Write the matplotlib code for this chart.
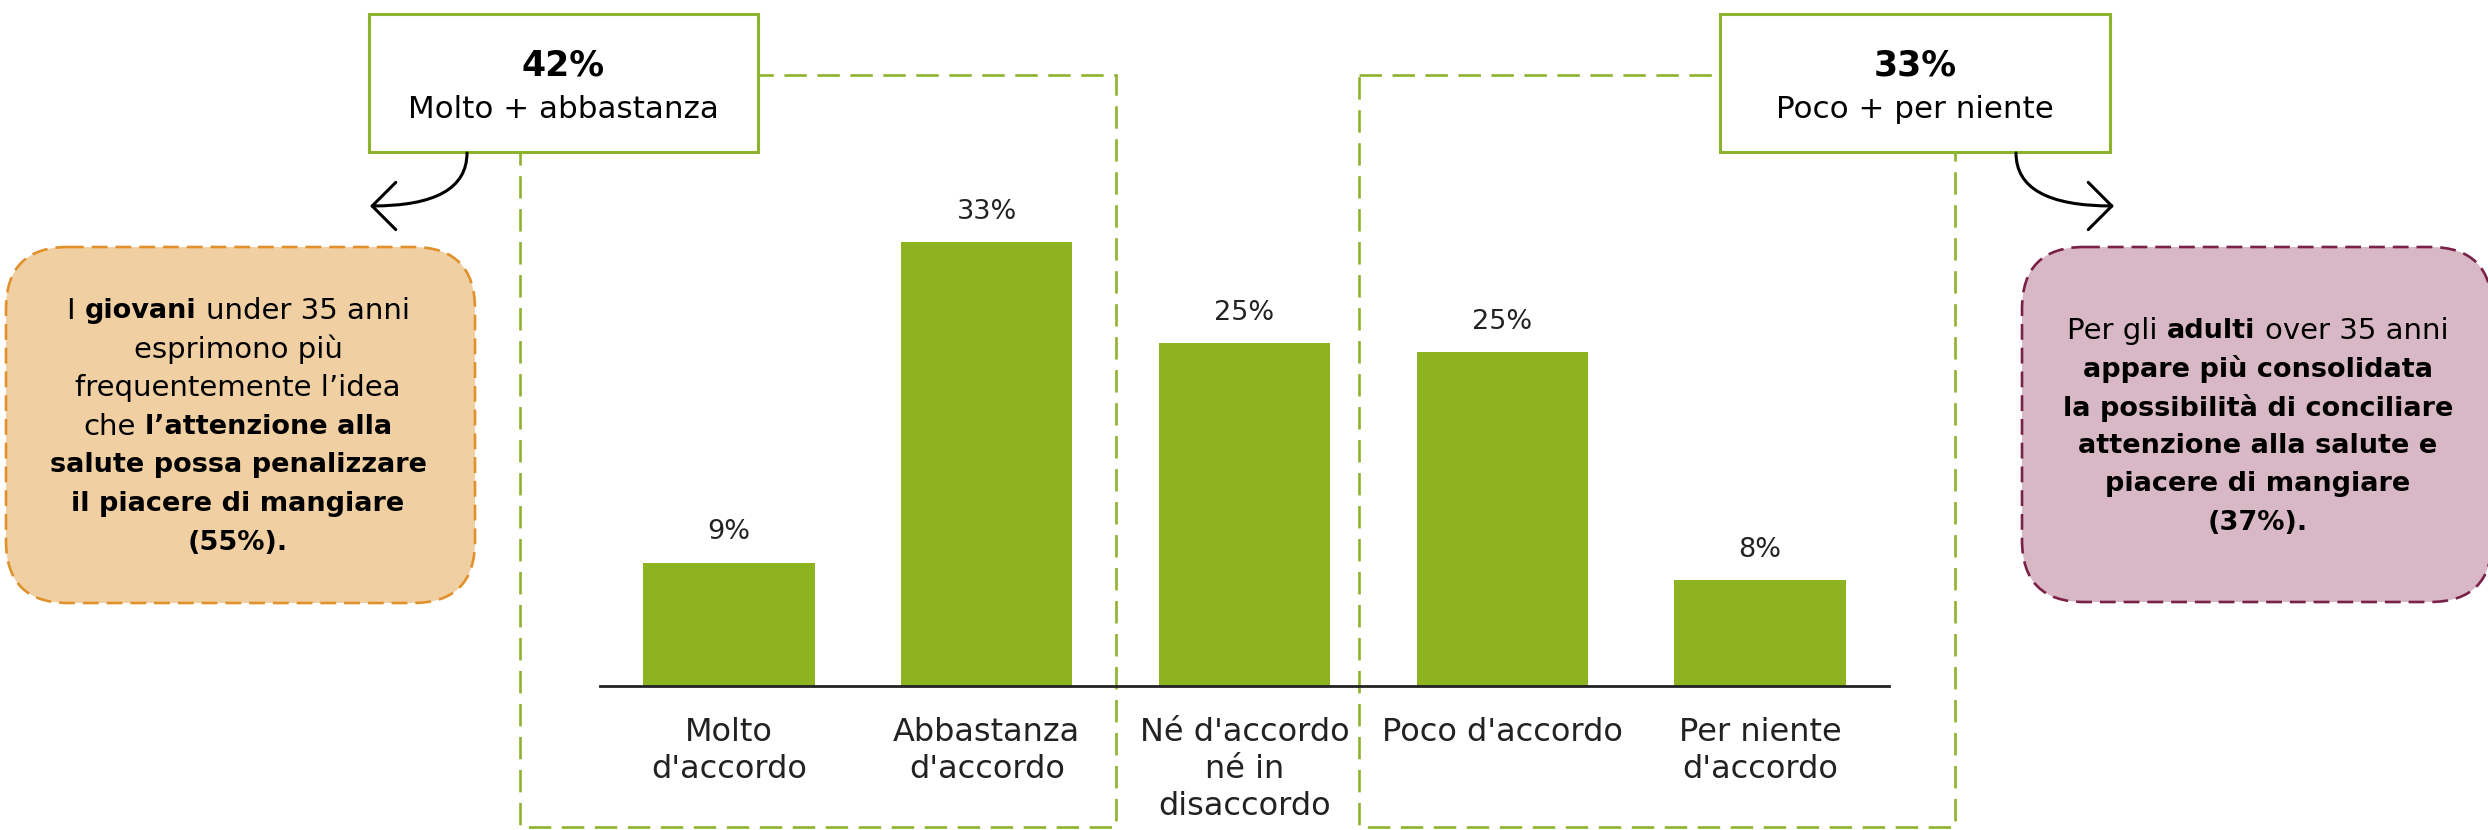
import matplotlib
matplotlib.use("Agg")
import matplotlib.pyplot as plt
from matplotlib.patches import Rectangle, FancyBboxPatch, FancyArrowPatch, ArrowStyle

categories = ["Molto\nd'accordo", "Abbastanza\nd'accordo", "Né d'accordo\nné in\ndisaccordo",
              "Poco d'accordo", "Per niente\nd'accordo"]
values = [9.2, 33.1, 25.6, 24.9, 7.9]
value_labels = ["9%", "33%", "25%", "25%", "8%"]

group_values = ["42%", "33%"]
group_labels = ["Molto + abbastanza", "Poco + per niente"]

left_note = [
    [("I", False), ("giovani", True), ("under 35 anni", False)],
    [("esprimono più", False)],
    [("frequentemente l’idea", False)],
    [("che", False), ("l’attenzione alla", True)],
    [("salute possa penalizzare", True)],
    [("il piacere di mangiare", True)],
    [("(55%).", True)],
]
right_note = [
    [("Per gli", False), ("adulti", True), ("over 35 anni", False)],
    [("appare più consolidata", True)],
    [("la possibilità di conciliare", True)],
    [("attenzione alla salute e", True)],
    [("piacere di mangiare", True)],
    [("(37%).", True)],
]

GREEN = "#8DB321"
EDGE_GREEN = "#8DB32E"
W, H = 2488, 830

plt.rcParams["font.family"] = "DejaVu Sans"
fig = plt.figure(figsize=(W / 100, H / 100), dpi=100)

# overlay axes in pixel units (y downwards)
ov = fig.add_axes([0, 0, 1, 1])
ov.set_xlim(0, W)
ov.set_ylim(H, 0)
ov.set_axis_off()

# bar axes
base_y, top_y = 686, 150
ax = fig.add_axes([600 / W, (H - base_y) / H, 1289 / W, (base_y - top_y) / H])
ax.set_facecolor("none")
x = range(len(categories))
ax.bar(x, values, width=0.665, color=GREEN, zorder=2)
ax.set_xlim(-0.5, len(categories) - 0.5)
ax.set_ylim(0, 40)
for i, (v, lab) in enumerate(zip(values, value_labels)):
    ax.text(i, v + 1.3, lab, ha="center", va="bottom", fontsize=19.5, color="#222222")
ax.set_xticks(list(x))
ax.set_xticklabels(categories, fontsize=23, color="#222222", linespacing=1.25, va="top")
ax.tick_params(axis="x", length=0, pad=22)
ax.set_yticks([])
for s in ["left", "right", "top"]:
    ax.spines[s].set_visible(False)
ax.spines["bottom"].set_linewidth(2)
ax.spines["bottom"].set_color("#222222")

# dashed group frames
for x0, x1 in [(520, 1116), (1359, 1955)]:
    ov.add_patch(Rectangle((x0, 75), x1 - x0, 752, fill=False, edgecolor=EDGE_GREEN,
                           linewidth=1.9, linestyle=(0, (8.5, 4)), zorder=1))

# group boxes
for (x0, x1), val, lab in zip([(369, 758), (1720, 2110)], group_values, group_labels):
    ov.add_patch(Rectangle((x0, 14), x1 - x0, 138, facecolor="white", edgecolor=EDGE_GREEN,
                           linewidth=2.2, zorder=3))
    cx = (x0 + x1) / 2
    ov.text(cx, 66, val, ha="center", va="center", fontsize=25, fontweight="bold", zorder=4)
    ov.text(cx, 110, lab, ha="center", va="center", fontsize=22.3, zorder=4)

# curved arrows
head = ArrowStyle("->", head_length=0.85, head_width=0.85)
ov.add_patch(FancyArrowPatch((467, 153), (370, 206), arrowstyle=head, mutation_scale=20,
                             connectionstyle="angle3,angleA=-90,angleB=0",
                             linewidth=2.2, color="black", shrinkA=0, shrinkB=0, zorder=4))
ov.add_patch(FancyArrowPatch((2016, 153), (2114, 206), arrowstyle=head, mutation_scale=20,
                             connectionstyle="angle3,angleA=-90,angleB=0",
                             linewidth=2.2, color="black", shrinkA=0, shrinkB=0, zorder=4))

# callout boxes
ov.add_patch(FancyBboxPatch((6, 247), 469, 356, boxstyle="round,pad=0,rounding_size=62",
                            facecolor="#F0CFA2", edgecolor="#E0912C", linewidth=1.9,
                            linestyle=(0, (6, 3)), zorder=2))
ov.add_patch(FancyBboxPatch((2022, 247), 470, 355, boxstyle="round,pad=0,rounding_size=62",
                            facecolor="#D8B8C5", edgecolor="#7A2148", linewidth=1.9,
                            linestyle=(0, (6, 3)), zorder=2))

renderer = fig.canvas.get_renderer()
sizes = {False: 21, True: 19.5}


def text_width(s, bold):
    t = ov.text(0, 0, s, fontsize=sizes[bold], fontweight="bold" if bold else "normal")
    w = t.get_window_extent(renderer).width
    t.remove()
    return w


space_w = {b: text_width("a a", b) - text_width("aa", b) for b in (False, True)}


def rich_lines(lines, cx, y0, step):
    for k, segs in enumerate(lines):
        widths = [text_width(s, b) for s, b in segs]
        gaps = [space_w[segs[j][1]] for j in range(len(segs) - 1)]
        total = sum(widths) + sum(gaps)
        xpos = cx - total / 2
        y = y0 + k * step
        for j, (s, b) in enumerate(segs):
            ov.text(xpos, y, s, ha="left", va="center", fontsize=sizes[b],
                    fontweight="bold" if b else "normal", color="black", zorder=5)
            xpos += widths[j]
            if j < len(gaps):
                xpos += gaps[j]


rich_lines(left_note, 238, 311, 38.6)
rich_lines(right_note, 2258, 331, 38.3)

fig.savefig("out.png", dpi=100)
